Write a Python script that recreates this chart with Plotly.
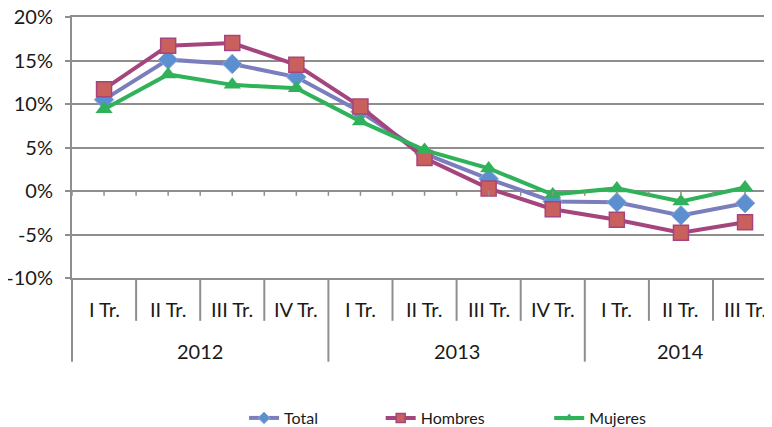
import plotly.graph_objects as go

# datos
years = ["2012", "2013", "2014"]
quarters = ["I Tr.", "II Tr.", "III Tr.", "IV Tr.",
            "I Tr.", "II Tr.", "III Tr.", "IV Tr.",
            "I Tr.", "II Tr.", "III Tr."]
total = [10.5, 15.1, 14.6, 13.1, 9.1, 4.3, 1.4, -1.2, -1.3, -2.8, -1.4]
hombres = [11.7, 16.7, 17.0, 14.5, 9.7, 3.8, 0.3, -2.1, -3.3, -4.8, -3.6]
mujeres = [9.4, 13.4, 12.2, 11.8, 8.0, 4.7, 2.6, -0.4, 0.3, -1.2, 0.4]
y_ticks = [-10, -5, 0, 5, 10, 15, 20]
y_labels = ["-10%", "-5%", "0%", "5%", "10%", "15%", "20%"]

GRID = "#8e8e8e"
FONT = "Lato, sans-serif"
TXT = "#1a1a1a"
x = [i + 0.5 for i in range(len(quarters))]

# la página añade 8px de margen al cuerpo: márgenes compensados
M_L, M_T, M_B = 64, 9, 156
plot_h = 427 - M_T - M_B
plot_w = 772 - M_L
cat_w = 64.1

series = [
    ("Total", total, "#7b7ebd",
     dict(symbol="diamond", color="#5b8fd0", line=dict(color="#8aa8d8", width=1)),
     "legend", 0.243),
    ("Hombres", hombres, "#a5457e",
     dict(symbol="square", color="#c9605e", line=dict(color="#a5457e", width=1.5)),
     "legend2", 0.436),
    ("Mujeres", mujeres, "#30b25a",
     dict(symbol="triangle-up", color="#30b25a"),
     "legend3", 0.674),
]

fig = go.Figure()
for name, vals, col, mk, _, _ in series:
    fig.add_trace(go.Scatter(
        x=x, y=vals, name=name, mode="lines+markers", showlegend=False,
        line=dict(color=col, width=4), marker=dict(size=15, **mk),
    ))
# entradas de leyenda con marcadores pequeños, una leyenda por serie
legends = {}
for name, vals, col, mk, leg, lx in series:
    fig.add_trace(go.Scatter(
        x=[None], y=[None], name=name, mode="lines+markers", legend=leg,
        line=dict(color=col, width=4), marker=dict(size=9, **mk),
    ))
    legends[leg] = dict(orientation="h", x=lx, xanchor="left",
                        y=-141 / plot_h, yanchor="middle",
                        bgcolor="rgba(0,0,0,0)",
                        font=dict(size=16, family=FONT, color=TXT))

# eje de categorías (dos niveles) dibujado a mano
shapes = []
# marcas en la línea del 0%
for i in range(len(quarters) * 2 + 1):
    shapes.append(dict(type="line", xref="x", yref="y", x0=i / 2, x1=i / 2,
                       y0=0, y1=-0.55, line=dict(color=GRID, width=1.5)))
# separadores de trimestre y de año
for i in range(1, len(quarters)):
    bottom = -84 / plot_h if i % 4 == 0 else -43 / plot_h
    shapes.append(dict(type="line", xref="x", yref="paper", x0=i, x1=i,
                       y0=0, y1=bottom, line=dict(color=GRID, width=2)))
shapes.append(dict(type="line", xref="paper", yref="paper", x0=0, x1=0,
                   y0=0, y1=-84 / plot_h, line=dict(color=GRID, width=2)))

annotations = []
for xi, q in zip(x, quarters):
    annotations.append(dict(x=xi, y=0, xref="x", yref="paper", text=q,
                            showarrow=False, yanchor="middle", yshift=-31,
                            font=dict(size=20, color=TXT, family=FONT)))
for k, yr in enumerate(years):
    start = k * 4
    end = min(start + 4, len(quarters))
    annotations.append(dict(x=(start + end) / 2, y=0, xref="x", yref="paper",
                            text=yr, showarrow=False, yanchor="middle", yshift=-73,
                            font=dict(size=20, color=TXT, family=FONT)))

fig.update_layout(
    width=772, height=427,
    margin=dict(l=M_L, r=0, t=M_T, b=M_B),
    paper_bgcolor="white", plot_bgcolor="white",
    font=dict(family=FONT, color=TXT),
    shapes=shapes, annotations=annotations,
    showlegend=True,
    **legends,
)
# la línea superior (20%) y la inferior (-10%) las dibuja el eje x en espejo
fig.update_xaxes(range=[0, plot_w / cat_w], showgrid=False, zeroline=False,
                 showticklabels=False, showline=True, mirror=True,
                 linecolor=GRID, linewidth=2, fixedrange=True,
                 automargin=False)
fig.update_yaxes(range=[-10, 20], tickvals=y_ticks, ticktext=y_labels,
                 showgrid=True, gridcolor=GRID, gridwidth=2,
                 zeroline=True, zerolinecolor=GRID, zerolinewidth=2,
                 showline=True, linecolor=GRID, linewidth=2,
                 ticks="outside", ticklen=5, tickcolor=GRID, tickwidth=2,
                 ticklabelstandoff=8, automargin=False,
                 ticklabeloverflow="allow",
                 tickfont=dict(size=20, color=TXT, family=FONT))

fig.write_html("out.html")
